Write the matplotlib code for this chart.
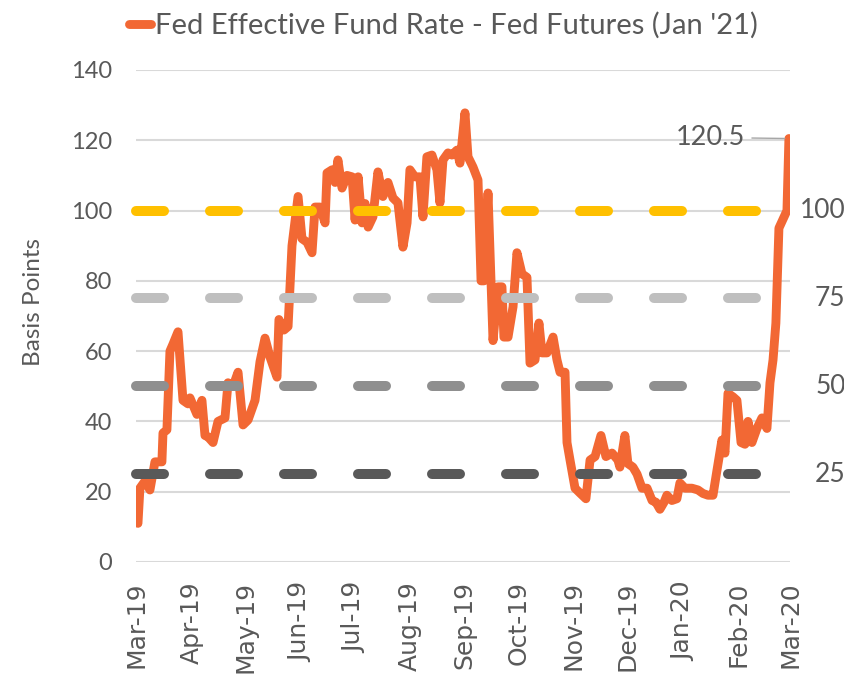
import matplotlib
matplotlib.use("Agg")
import matplotlib.pyplot as plt
import matplotlib.dates as mdates
import matplotlib.transforms as mtransforms
import pandas as pd

# ---------------- data ----------------
start_date = "2019-03-01"
# days since start_date
day_offset = [
    1.1, 2.2, 5.0, 7.8, 10.6, 14.5, 15.1, 17.3, 19.0, 20.7, 23.5, 26.3, 29.1, 30.2,
    34.1, 36.9, 38.6, 40.3, 43.1, 45.9, 49.8, 51.5, 54.3, 57.1, 59.9, 62.7, 66.6,
    69.4, 72.2, 75.0, 78.9, 80.0, 82.8, 85.1, 87.3, 90.7, 92.9, 95.7, 98.5, 100.2,
    103.0, 105.8, 106.9, 109.7, 111.4, 113.0, 115.3, 118.1, 120.9, 122.6, 124.3,
    126.5, 128.2, 129.9, 132.6, 135.4, 138.2, 141.0, 143.8, 146.6, 149.4, 151.7,
    153.3, 156.1, 158.9, 160.6, 162.8, 165.6, 168.4, 170.1, 171.8, 174.6, 176.8,
    179.6, 181.3, 184.1, 185.8, 188.6, 191.4, 193.1, 194.7, 197.0, 199.8, 202.6,
    204.8, 205.9, 208.2, 211.0, 213.2, 216.0, 218.8, 220.5, 223.3, 225.5, 227.2,
    230.0, 233.4, 235.6, 237.3, 240.1, 241.2, 242.9, 245.7, 248.5, 251.8, 254.1,
    256.9, 260.2, 263.0, 266.4, 269.7, 270.8, 273.6, 275.3, 278.1, 280.4, 283.2,
    286.0, 288.8, 291.0, 293.2, 295.5, 297.1, 299.9, 302.7, 304.4, 307.2, 311.1,
    314.5, 317.3, 320.1, 322.9, 325.1, 327.9, 329.6, 331.3, 334.1, 336.3, 338.6,
    340.8, 342.5, 344.7, 347.5, 350.3, 353.1, 354.8, 356.5, 358.1, 359.8, 364.3,
    365.4,
]
spread_bp = [
    11, 21, 23, 20.5, 28.5, 28.5, 36.7, 37.6, 60, 62, 65.5, 46, 45, 46.7,
    42, 46, 36, 35.6, 34, 40, 41, 51, 50, 54, 39, 40.4, 46,
    57, 63.7, 58.3, 52.6, 69, 66, 67, 90, 104, 92, 91, 88, 101,
    101, 96.5, 110.7, 111.6, 108, 114.4, 106.4, 110, 109.6, 97.3, 109.6,
    96.5, 102, 95.3, 98.2, 111, 104, 108, 103.6, 102.2, 89.6, 96.5,
    111.6, 109.6, 109.6, 98.2, 115.3, 115.8, 111.6, 102.2, 114.4, 116.4, 115.8,
    117.2, 113.5, 127.8, 115.3, 112.4, 108.7, 80, 80, 105, 63, 78.3,
    78.3, 64, 64, 72.6, 88, 82, 81, 56.6, 57.5, 68, 59.5,
    59.5, 64, 57.5, 54, 54, 34, 29, 21, 19.6, 18, 29,
    30, 36, 30, 31, 29, 27, 36, 28, 27, 25, 21,
    21, 17.5, 17, 15, 17, 19, 17.5, 18, 22.5, 21, 21,
    20.5, 19.5, 19, 19, 26, 34.7, 31, 48, 47, 46, 34,
    33.5, 40, 34, 38, 41, 38, 51, 57.5, 68, 95, 100,
    120.5,
]
ref_levels = [100, 75, 50, 25]
ref_labels = ["100", "75", "50", "25"]
ref_colors = ["#FFC000", "#BFBFBF", "#8F8F8F", "#595959"]
y_ticks = [0, 20, 40, 60, 80, 100, 120, 140]
series_name = "Fed Effective Fund Rate - Fed Futures (Jan '21)"
last_label = "120.5"
x_start, x_end = "2019-03-01", "2020-03-01"

# ---------------- plotting ----------------
TXT = "#595959"
ORANGE = "#F26834"

fig = plt.figure(figsize=(8.45, 6.78), dpi=100)
ax = fig.add_axes([136 / 845, 1 - 562 / 678, 654 / 845, (562 - 70) / 678])

dates = pd.Timestamp(start_date) + pd.to_timedelta(day_offset, unit="D")
line, = ax.plot(dates, spread_bp, color=ORANGE, lw=6.4, solid_joinstyle="round",
                solid_capstyle="round", zorder=3, label=series_name)

x0, x1 = pd.Timestamp(x_start), pd.Timestamp(x_end)
for lvl, col in zip(ref_levels, ref_colors):
    ax.plot([x0, x1], [lvl, lvl], color=col, lw=7.2, linestyle=(0, (2.8, 4.6)),
            dash_capstyle="round", zorder=4, clip_on=False)

ax.set_xlim(x0, x1)
ax.set_ylim(0, 140)
ax.set_yticks(y_ticks)
ax.yaxis.grid(True, color="#D9D9D9", lw=1.5, zorder=0)
ax.set_axisbelow(True)
for s in ax.spines.values():
    s.set_visible(False)

ax.xaxis.set_major_locator(mdates.MonthLocator())
ax.xaxis.set_major_formatter(mdates.DateFormatter("%b-%y"))
ax.tick_params(axis="both", length=0)
ax.tick_params(axis="y", pad=17, labelsize=17, labelcolor=TXT)
ax.tick_params(axis="x", pad=14, labelsize=18, labelcolor=TXT, rotation=90)
for t in ax.get_yticklabels():
    t.set_family("Lato")
for t in ax.get_xticklabels():
    t.set_family("DejaVu Sans")

ax.set_ylabel("Basis Points", fontsize=17.5, color=TXT, family="Lato")
ax.yaxis.set_label_coords(-0.14, 0.528)

# right-side level labels
trans = mtransforms.blended_transform_factory(ax.transAxes, ax.transData)
for lvl, lab in zip(ref_levels, ref_labels):
    ax.text(1.085, lvl, lab, transform=trans, ha="right", va="center",
            fontsize=19, color=TXT, family="Lato", clip_on=False)

# last value annotation
ax.annotate(last_label, xy=(dates[-1], spread_bp[-1]),
            xytext=(pd.Timestamp(start_date) + pd.Timedelta(days=340.8), 120.8),
            ha="right", va="center", fontsize=19.5, color=TXT, family="Lato",
            arrowprops=dict(arrowstyle="-", color="#A6A6A6", lw=1,
                            shrinkA=3, shrinkB=3))

leg = ax.legend(handles=[line], loc="center", bbox_to_anchor=(0.525, 0.962),
                bbox_transform=fig.transFigure, frameon=False, handlelength=0.75,
                handletextpad=0.15, prop={"family": "Lato", "size": 21})
for t in leg.get_texts():
    t.set_color(TXT)

fig.savefig("out.png", dpi=100)
